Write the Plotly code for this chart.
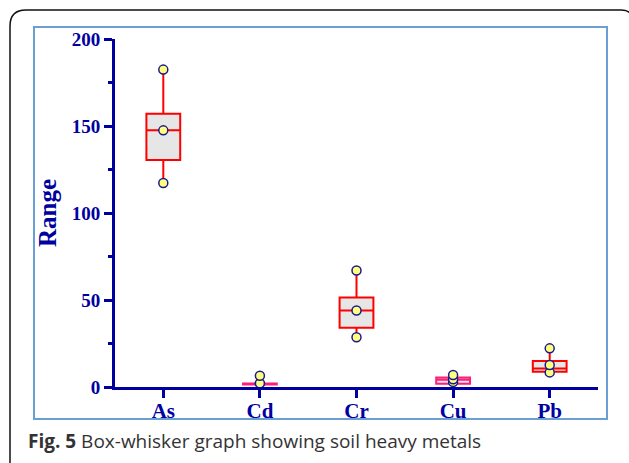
import plotly.graph_objects as go

metals = ["As", "Cd", "Cr", "Cu", "Pb"]
q1 = [130.5, 1.4, 34.0, 1.8, 8.8]
median = [147.5, 1.7, 44.0, 4.2, 10.7]
q3 = [157.0, 2.0, 51.5, 5.4, 15.0]
lower = [117.2, 1.4, 28.6, 1.8, 8.4]
upper = [182.4, 6.5, 67.0, 6.9, 22.2]
box_colors = ["#FF0000", "#FF1F7A", "#FF0000", "#FF1F7A", "#FF0000"]
# displayed points: min, median, max (as plotted)
pt_min = [117.2, 2.1, 28.6, 2.9, 8.4]
pt_mid = [147.5, 2.1, 44.0, 4.4, 12.6]
pt_max = [182.4, 6.5, 67.0, 6.9, 22.2]

AX = "#0000A0"

fig = go.Figure()
for i, m in enumerate(metals):
    fig.add_trace(go.Box(
        x=[m], q1=[q1[i]], median=[median[i]], q3=[q3[i]],
        lowerfence=[lower[i]], upperfence=[upper[i]],
        fillcolor="#E6E6E6", line=dict(color=box_colors[i], width=2),
        whiskerwidth=0, width=0.35, boxpoints=False, showlegend=False,
        hoverinfo="skip",
    ))

for arr in (pt_min, pt_mid, pt_max):
    fig.add_trace(go.Scatter(
        x=metals, y=arr, mode="markers", showlegend=False,
        marker=dict(size=9, color="#FFFF80", line=dict(color="#1A1A8C", width=1.5)),
    ))

L, R, T, B = 115, 598, 39, 387
W, H = 629, 463
pw, ph = R - L, B - T


def px(x):
    return (x - L) / pw


def py(y):
    return (B - y) / ph


shapes = []
# blue frame
shapes.append(dict(type="rect", xref="paper", yref="paper",
                   x0=px(34), x1=px(607), y0=py(419), y1=py(27),
                   line=dict(color="#6A9FD4", width=2), layer="below"))
# outer rounded black border (left/top/right edges)
r = 16
path = (f"M {px(10)},{py(470)} L {px(10)},{py(10 + r)} "
        f"Q {px(10)},{py(10)} {px(10 + r)},{py(10)} "
        f"L {px(621)},{py(10)} Q {px(628)},{py(10)} {px(631)},{py(14)}")
shapes.append(dict(type="path", xref="paper", yref="paper", path=path,
                   line=dict(color="#111111", width=1.5)))

fig.update_layout(
    width=W, height=H,
    margin=dict(l=L, r=W - R, t=T, b=H - B),
    paper_bgcolor="white", plot_bgcolor="white",
    shapes=shapes,
    xaxis=dict(range=[-0.5, 4.5], showgrid=False, zeroline=False,
               showline=True, linecolor=AX, linewidth=3,
               ticks="outside", ticklen=8, tickwidth=3, tickcolor=AX,
               ticklabelstandoff=-5,
               tickfont=dict(family="Liberation Serif", size=21, color=AX, weight="bold"),
               fixedrange=True),
    yaxis=dict(range=[0, 200], showgrid=False, zeroline=False,
               showline=True, linecolor=AX, linewidth=3,
               tickvals=[0, 50, 100, 150, 200],
               ticks="outside", ticklen=8, tickwidth=3, tickcolor=AX,
               minor=dict(tickvals=[25, 75, 125, 175], ticks="outside", ticklen=4,
                          tickwidth=3, tickcolor=AX),
               tickfont=dict(family="Liberation Serif", size=19, color=AX, weight="bold"),
               title=dict(text="Range", standoff=8,
                          font=dict(family="Liberation Serif", size=25, color=AX, weight="bold")),
               fixedrange=True),
    annotations=[dict(
        xref="paper", yref="paper", x=px(26), y=py(441), xanchor="left", yanchor="middle",
        showarrow=False,
        text="<b>Fig. 5</b> Box-whisker graph showing soil heavy metals",
        font=dict(family="Open Sans", size=19, color="#333333"),
    )],
)

fig.write_html("out.html")
